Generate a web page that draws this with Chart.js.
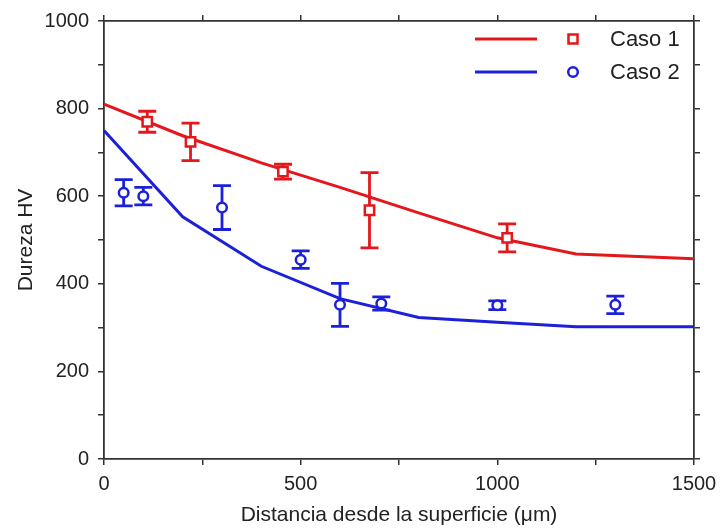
<!DOCTYPE html>
<html>
<head>
<meta charset="UTF-8">
<title>Dureza HV</title>
<script src="https://cdn.jsdelivr.net/npm/chart.js"></script>
<style>
  html, body { margin: 0; padding: 0; background: #fff; }
  #wrap { width: 724px; height: 531px; }
</style>
</head>
<body>
<div id="wrap"><canvas id="chart" width="724" height="531"></canvas></div>
<script>
  const seriesNames = ['Caso 1', 'Caso 2'];
  // measured points with error bars
  const caso1X = [110, 220, 455, 675, 1025];
  const caso1Y = [770, 724, 656, 568, 505];
  const caso1Err = [24, 43, 17, 86, 32];
  const caso2X = [50, 100, 300, 500, 600, 705, 1000, 1300];
  const caso2Y = [608, 600, 574, 455, 352, 355, 351, 352];
  const caso2Err = [30, 20, 50, 20, 49, 15, 10, 20];
  // fitted curves
  const fitX = [0, 200, 400, 600, 800, 1000, 1200, 1500];
  const fit1 = [810, 738, 676, 620, 562, 505, 468, 457];
  const fit2 = [750, 553, 440, 366, 323, 312, 302, 302];
  const xTicks = [0, 500, 1000, 1500];
  const yTicks = [0, 200, 400, 600, 800, 1000];

  const RED = '#e3171c';
  const BLUE = '#1c20d8';
  const AXIS = '#333';
  const TEXT = '#222';
  const FONT = 'Liberation Sans, Arial, sans-serif';

  const toPts = (xs, ys) => xs.map((x, i) => ({ x: x, y: ys[i] }));

  const errorBars = {
    id: 'errorBars',
    beforeDatasetDraw(chart, args) {
      const ds = chart.data.datasets[args.index];
      if (!ds.errors) return;
      const ctx = chart.ctx;
      const xs = chart.scales.x, ys = chart.scales.y;
      ctx.save();
      ctx.strokeStyle = ds.borderColor;
      ctx.lineWidth = 2.8;
      ds.data.forEach((p, i) => {
        const px = xs.getPixelForValue(p.x);
        const top = ys.getPixelForValue(p.y + ds.errors[i]);
        const bot = ys.getPixelForValue(p.y - ds.errors[i]);
        ctx.beginPath();
        ctx.moveTo(px, top); ctx.lineTo(px, bot);
        ctx.moveTo(px - 9, top); ctx.lineTo(px + 9, top);
        ctx.moveTo(px - 9, bot); ctx.lineTo(px + 9, bot);
        ctx.stroke();
      });
      ctx.restore();
    }
  };

  const boxLegend = {
    id: 'boxLegend',
    afterDraw(chart) {
      const ctx = chart.ctx;
      const a = chart.chartArea;
      const rows = [
        { name: seriesNames[0], color: RED, style: 'rect', radius: 6.4 },
        { name: seriesNames[1], color: BLUE, style: 'circle', radius: 4.8 }
      ];
      ctx.save();
      rows.forEach((r, i) => {
        const y = a.top + 18 + i * 33;
        ctx.strokeStyle = r.color;
        ctx.lineWidth = 3;
        ctx.beginPath();
        ctx.moveTo(a.right - 219, y); ctx.lineTo(a.right - 157, y);
        ctx.stroke();
        ctx.fillStyle = '#fff';
        ctx.lineWidth = 2.5;
        Chart.helpers.drawPoint(ctx, { pointStyle: r.style, radius: r.radius, borderWidth: 2.5 }, a.right - 121, y);
        ctx.fillStyle = TEXT;
        ctx.font = '22px ' + FONT;
        ctx.textBaseline = 'middle';
        ctx.fillText(r.name, a.right - 84, y + 1);
      });
      ctx.restore();
    }
  };

  const grid = { drawOnChartArea: false, tickLength: 6, color: AXIS, lineWidth: 1.5 };
  const border = { color: AXIS, width: 1.8 };

  new Chart(document.getElementById('chart').getContext('2d'), {
    type: 'line',
    data: {
      datasets: [
        { label: seriesNames[0], data: toPts(caso1X, caso1Y), errors: caso1Err, showLine: false,
          borderColor: RED, backgroundColor: '#fff', pointStyle: 'rect', pointRadius: 6.6, pointBorderWidth: 2.5 },
        { label: seriesNames[1], data: toPts(caso2X, caso2Y), errors: caso2Err, showLine: false,
          borderColor: BLUE, backgroundColor: '#fff', pointStyle: 'circle', pointRadius: 4.8, pointBorderWidth: 2.5 },
        { label: seriesNames[0] + ' ajuste', data: toPts(fitX, fit1), borderColor: RED, borderWidth: 3,
          pointRadius: 0, tension: 0, fill: false },
        { label: seriesNames[1] + ' ajuste', data: toPts(fitX, fit2), borderColor: BLUE, borderWidth: 3,
          pointRadius: 0, tension: 0, fill: false }
      ]
    },
    options: {
      responsive: false,
      animation: false,
      events: [],
      layout: { padding: 0 },
      plugins: { legend: { display: false }, tooltip: { enabled: false } },
      scales: {
        x: {
          type: 'linear', position: 'bottom', min: 0, max: 1500,
          ticks: { stepSize: 250, autoSkip: false, maxRotation: 0, padding: 7, color: TEXT,
            font: { family: FONT, size: 20 },
            callback: v => xTicks.includes(v) ? String(v) : '' },
          grid: grid, border: border,
          title: { display: true, text: 'Distancia desde la superficie (μm)', color: TEXT,
            font: { family: FONT, size: 21 }, padding: { top: 0, bottom: 3 } },
          afterFit: s => { s.height = 72; }
        },
        y: {
          type: 'linear', position: 'left', min: 0, max: 1000,
          ticks: { stepSize: 100, autoSkip: false, padding: 9, color: TEXT,
            font: { family: FONT, size: 20 },
            callback: v => yTicks.includes(v) ? String(v) : '' },
          grid: grid, border: border,
          title: { display: true, text: 'Dureza HV', color: TEXT,
            font: { family: FONT, size: 21 }, padding: { top: 14, bottom: 0 } },
          afterFit: s => { s.width = 104; }
        },
        x2: {
          type: 'linear', position: 'top', min: 0, max: 1500,
          ticks: { stepSize: 250, display: false },
          grid: grid, border: border,
          afterFit: s => { s.height = 19; }
        },
        y2: {
          type: 'linear', position: 'right', min: 0, max: 1000,
          ticks: { stepSize: 100, display: false },
          grid: grid, border: border,
          afterFit: s => { s.width = 30; }
        }
      }
    },
    plugins: [errorBars, boxLegend]
  });
</script>
</body>
</html>
